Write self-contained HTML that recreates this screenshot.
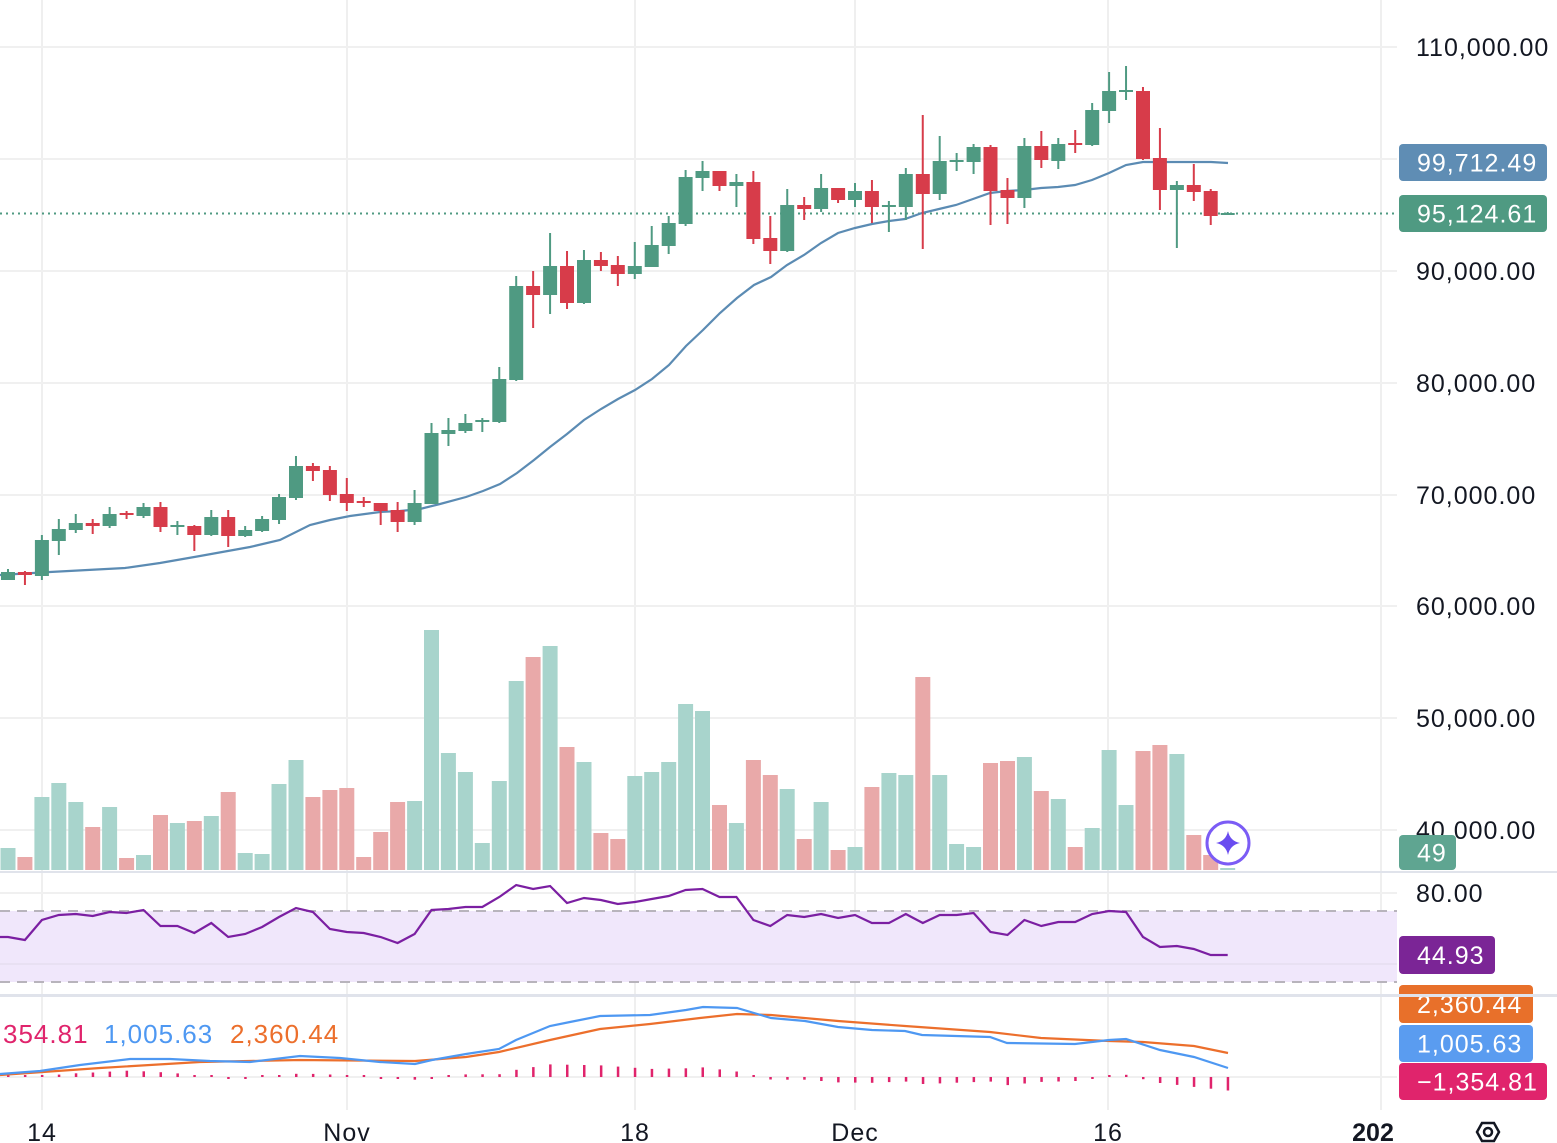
<!DOCTYPE html>
<html><head><meta charset="utf-8"><style>
html,body{margin:0;padding:0;background:#fff;}
svg{display:block;font-family:"Liberation Sans",sans-serif;}
</style></head><body>
<svg id="s" width="1557" height="1143" viewBox="0 0 1557 1143" xmlns="http://www.w3.org/2000/svg"></svg>
<script>
const s=document.getElementById('s');let h='';
const G='#4f9a82',R='#d73c4a',VG='#a8d4cc',VR='#e9a9a9';
[42,347,635,855,1108,1381].forEach(x=>h+=`<line x1="${x}" y1="0" x2="${x}" y2="1110" stroke="#efefef" stroke-width="2"/>`);
[47,159,271,383,495,606,718,830].forEach(y=>h+=`<line x1="0" y1="${y}" x2="1397" y2="${y}" stroke="#f0f0f0" stroke-width="2"/>`);
const C=[[580,572,569,580],[572,575,571,585],[576,540,535,580],[541,529,519,555],[530,523,514,533],[523,526,519,534],[526,514,507,528],[513,515,511,519],[516,507,503,518],[507,527,502,532],[526,525,521,535],[526,535,525,551],[535,517,510,536],[517,536,510,547],[536,530,526,537],[531,519,516,532],[520,497,494,524],[498,466,456,500],[466,471,463,481],[470,495,466,501],[494,503,478,511],[501,503,497,507],[503,511,503,525],[510,522,502,532],[522,503,490,525],[504,433,423,504],[434,430,418,446],[431,423,414,433],[422,420,418,432],[422,379,367,423],[380,286,276,381],[286,295,271,328],[295,266,233,314],[266,303,251,309],[303,260,250,304],[260,266,252,271],[265,274,256,286],[274,266,242,279],[267,245,226,267],[246,223,216,254],[224,177,170,226],[178,171,161,191],[171,186,171,191],[186,182,174,207],[182,239,171,244],[238,251,216,264],[251,205,189,252],[205,209,197,220],[209,188,174,212],[188,200,188,203],[200,191,183,207],[191,207,180,223],[207,205,201,232],[207,174,168,220],[174,194,115,249],[194,161,136,200],[162,160,153,171],[162,147,144,174],[147,191,145,225],[190,198,178,224],[198,146,138,208],[146,160,131,168],[161,144,138,169],[143,145,130,153],[145,110,103,146],[111,91,72,123],[92,90,66,100],[91,159,87,160],[158,190,128,210],[190,185,181,248],[185,192,164,201],[191,216,189,225],[214,213,212,215]];
const V=[[848,1],[857,0],[797,1],[783,1],[802,1],[827,0],[807,1],[858,0],[855,1],[815,0],[823,1],[821,0],[816,1],[792,0],[853,1],[854,1],[784,1],[760,1],[797,0],[790,0],[788,0],[857,0],[832,0],[802,0],[801,1],[630,1],[753,1],[772,1],[843,1],[781,1],[681,1],[657,0],[646,1],[747,0],[762,1],[833,0],[839,0],[776,1],[772,1],[762,1],[704,1],[711,1],[805,0],[823,1],[760,0],[775,0],[789,1],[839,0],[802,1],[850,0],[847,1],[787,0],[773,1],[775,1],[677,0],[775,1],[844,1],[847,1],[763,0],[761,0],[757,1],[791,0],[799,1],[847,0],[828,1],[750,1],[805,1],[751,0],[745,0],[754,1],[835,0],[855,0],[868,1]];
const X=i=>8+i*16.94;
V.forEach((v,i)=>{const x=X(i);h+=`<rect x="${(x-7.5).toFixed(1)}" y="${v[0]}" width="15" height="${870-v[0]}" fill="${v[1]?VG:VR}"/>`;});
h+=`<line x1="0" y1="213.5" x2="1397" y2="213.5" stroke="${G}" stroke-width="2" stroke-dasharray="2 4"/>`;
const MA=[[0,575],[50,572],[125,568],[160,563],[200,556],[250,547],[280,540],[310,525],[330,520],[350,516],[380,512],[400,511],[420,509],[440,504],[466,497],[483,491],[500,484],[517,473],[534,460],[550,447],[567,434],[584,420],[601,409],[618,399],[635,390],[652,379],[669,365],[686,346],[703,330],[720,313],[737,298],[754,285],[771,277],[787,265],[804,255],[821,243],[838,233],[855,228],[872,224],[889,221],[905,219],[922,213],[939,209],[956,205],[973,199],[990,193],[1007,191],[1024,190],[1041,188],[1058,187],[1075,185],[1092,180],[1109,173],[1126,165],[1143,162],[1160,162],[1177,162],[1194,162],[1211,162],[1228,163]];
h+=`<polyline points="${MA.map(p=>p.join(',')).join(' ')}" fill="none" stroke="#5b8bb3" stroke-width="2.2"/>`;
C.forEach((c,i)=>{const x=X(i),col=c[1]<c[0]?G:R;const t=Math.min(c[0],c[1]),b=Math.max(c[0],c[1]);
h+=`<line x1="${x}" y1="${c[2]}" x2="${x}" y2="${c[3]}" stroke="${col}" stroke-width="2"/>`;
h+=`<rect x="${(x-7).toFixed(1)}" y="${t}" width="14" height="${Math.max(b-t,2)}" fill="${col}"/>`;});
h+=`<circle cx="1228" cy="843" r="21" fill="#fff" stroke="#7b5cf5" stroke-width="3"/><path d="M1228 831 Q1230 841 1240 843 Q1230 845 1228 855 Q1226 845 1216 843 Q1226 841 1228 831Z" fill="#6a4cf0"/>`;
h+=`<rect x="0" y="871" width="1557" height="2" fill="#e0e3eb"/><rect x="0" y="994" width="1557" height="3" fill="#e0e3eb"/>`;
h+=`<rect x="0" y="911" width="1397" height="71" fill="#f0e7fb"/>`;
h+=`<line x1="0" y1="893" x2="1397" y2="893" stroke="#f0f0f0" stroke-width="2"/><line x1="0" y1="964" x2="1397" y2="964" stroke="#e6def0" stroke-width="1.5"/>`;
[911,982].forEach(y=>h+=`<line x1="0" y1="${y}" x2="1397" y2="${y}" stroke="#b8b4bc" stroke-width="2" stroke-dasharray="10 7"/>`);
const RS=[937,940,920,915,914,916,912,913,910,926,926,933,923,937,934,927,917,908,912,929,932,933,937,943,934,910,909,907,907,897,885,889,886,903,898,900,904,902,899,896,890,889,897,897,920,926,915,917,914,918,915,923,923,914,923,915,915,913,932,935,920,926,922,922,914,911,912,937,947,946,949,955,955];
h+=`<polyline points="0,937 ${RS.map((y,i)=>X(i).toFixed(1)+','+y).join(' ')}" fill="none" stroke="#7b1fa2" stroke-width="2.2"/>`;
h+=`<line x1="0" y1="1077" x2="1397" y2="1077" stroke="#f0f0f0" stroke-width="2"/>`;
const B=[[0,1074],[40,1071],[80,1065],[130,1059],[170,1059],[210,1061],[250,1062],[300,1056],[340,1058],[380,1062],[415,1064],[432,1060],[466,1054],[499,1049],[516,1040],[550,1026],[570,1022],[600,1016],[650,1015],[686,1010],[703,1007],[737,1008],[754,1013],[771,1018],[805,1021],[838,1027],[872,1030],[905,1031],[922,1035],[990,1037],[1007,1043],[1075,1044],[1109,1040],[1126,1039],[1160,1050],[1194,1057],[1228,1068]];
const O=[[0,1075],[100,1068],[200,1062],[300,1060],[415,1061],[466,1057],[499,1052],[550,1040],[600,1029],[650,1024],[700,1018],[737,1014],[771,1015],[838,1021],[905,1026],[990,1032],[1041,1038],[1109,1041],[1143,1042],[1194,1046],[1228,1053]];
const itp=(A,x)=>{for(let k=1;k<A.length;k++)if(x<=A[k][0]){const a=A[k-1],b=A[k];return a[1]+(b[1]-a[1])*(x-a[0])/(b[0]-a[0]);}return A[A.length-1][1];};
for(let i=0;i<73;i++){const x=X(i);let d=(itp(O,x)-itp(B,x))*0.9;if(Math.abs(d)<2)d=d<0?-2:2;
 const y1=d>0?1077-d:1077,hh=Math.abs(d);h+=`<rect x="${(x-1).toFixed(1)}" y="${y1.toFixed(1)}" width="2.5" height="${hh.toFixed(1)}" fill="#e0246c"/>`;}
h+=`<polyline points="${O.map(p=>p.join(',')).join(' ')}" fill="none" stroke="#ec6f2c" stroke-width="2.2"/>`;
h+=`<polyline points="${B.map(p=>p.join(',')).join(' ')}" fill="none" stroke="#4e98f2" stroke-width="2.2"/>`;
h+=`<g letter-spacing="1"><text x="3" y="1043" font-size="26" fill="#e0246c">354.81</text><text x="104" y="1043" font-size="26" fill="#4e98f2">1,005.63</text><text x="230" y="1043" font-size="26" fill="#ec6f2c">2,360.44</text></g>`;
h+=`<rect x="1397" y="0" width="160" height="1110" fill="#fff"/><rect x="1397" y="871" width="160" height="2" fill="#e0e3eb"/><rect x="1397" y="994" width="160" height="3" fill="#e0e3eb"/>`;
const L=[[47,'110,000.00'],[271,'90,000.00'],[383,'80,000.00'],[495,'70,000.00'],[606,'60,000.00'],[718,'50,000.00'],[830,'40,000.00']];
L.forEach(l=>h+=`<text x="1416" y="${l[0]+9}" font-size="25" letter-spacing="1" fill="#131722">${l[1]}</text>`);
h+=`<text x="1416" y="902" font-size="25" letter-spacing="1" fill="#131722">80.00</text>`;
const box=(x,y,w,hh,c,t)=>h+=`<rect x="${x}" y="${y}" width="${w}" height="${hh}" rx="4" fill="${c}"/><text x="${x+18}" y="${y+hh/2+9}" font-size="25" letter-spacing="1" fill="#fff">${t}</text>`;
box(1399,144,148,37,'#5f8db4','99,712.49');
box(1399,195,148,37,'#4f9a82','95,124.61');
box(1399,835,57,35,'#5fa591','49');
box(1399,936,96,38,'#7b2596','44.93');
box(1399,985,134,38,'#e8702a','2,360.44');
h+=`<rect x="1397" y="994" width="160" height="3" fill="#e0e3eb"/>`;
box(1399,1025,134,37,'#5a9cf0','1,005.63');
box(1399,1063,148,37,'#e0246c','\u22121,354.81');
[[42,'14'],[347,'Nov'],[635,'18'],[855,'Dec'],[1108,'16']].forEach(l=>h+=`<text x="${l[0]}" y="1141" font-size="25" letter-spacing="1" fill="#131722" text-anchor="middle">${l[1]}</text>`);
h+=`<text x="1373" y="1141" font-size="25" font-weight="bold" fill="#131722" text-anchor="middle">202</text>`;
h+=`<path d="M1477 1132 L1482 1123 L1494 1123 L1499 1132 L1494 1141 L1482 1141 Z" fill="none" stroke="#131722" stroke-width="2.5"/><circle cx="1488" cy="1132" r="4" fill="none" stroke="#131722" stroke-width="2.5"/>`;
s.innerHTML=h;
</script>
</body></html>
